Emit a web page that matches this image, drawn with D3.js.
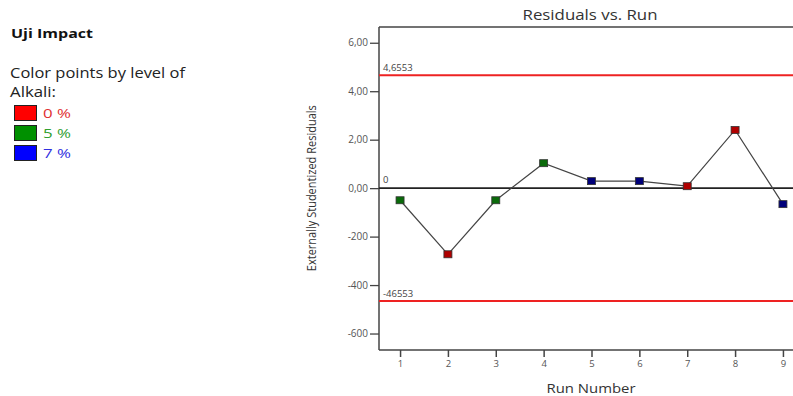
<!DOCTYPE html>
<html>
<head>
<meta charset="utf-8">
<script src="https://cdn.jsdelivr.net/npm/d3@7"></script>
<style>
body { margin: 0; background: #fff; }
svg { font-family: "Open Sans", "Noto Sans", sans-serif; }
</style>
</head>
<body>
<svg id="chart" width="793" height="396"></svg>
<script>
// data
var runs = [1, 2, 3, 4, 5, 6, 7, 8, 9];
var residuals = [-0.5, -2.73, -0.5, 1.03, 0.29, 0.29, 0.08, 2.4, -0.66];
var alkaliLevel = ["5 %", "0 %", "5 %", "5 %", "7 %", "7 %", "0 %", "0 %", "7 %"];
var levels = ["0 %", "5 %", "7 %"];
var levelColors = ["#ff0000", "#009000", "#0000ff"];
var pointColors = ["#b00000", "#0a6a0a", "#00007a"];
var textColors = ["#e03030", "#30a030", "#3030e0"];
var yTicks = [6, 4, 2, 0, -2, -4, -6];
var yTickLabels = ["6,00", "4,00", "2,00", "0,00", "-200", "-400", "-600"];
var limits = [4.6553, -4.6553];
var limitLabels = ["4,6553", "-46553"];

var svg = d3.select("#chart");
var plotLeft = 379, plotRight = 804, plotTop = 27, plotBottom = 350;

var x = d3.scaleLinear().domain([0.56, 9.44]).range([plotLeft, plotRight]);
var y = d3.scaleLinear().domain([-6.68, 6.65]).range([plotBottom, plotTop]);

// legend
svg.append("text").attr("x", 11).attr("y", 38)
    .attr("font-size", 13).attr("font-weight", "bold").attr("fill", "#111")
    .attr("textLength", 82).attr("lengthAdjust", "spacingAndGlyphs")
    .text("Uji Impact");
svg.append("text").attr("x", 10).attr("y", 78)
    .attr("font-size", 14).attr("fill", "#222")
    .attr("textLength", 175).attr("lengthAdjust", "spacingAndGlyphs")
    .text("Color points by level of");
svg.append("text").attr("x", 10).attr("y", 97)
    .attr("font-size", 14).attr("fill", "#222")
    .attr("textLength", 46).attr("lengthAdjust", "spacingAndGlyphs")
    .text("Alkali:");
levels.forEach(function(l, i) {
    svg.append("rect").attr("x", 14.5).attr("y", 105.5 + i * 20)
        .attr("width", 22).attr("height", 15)
        .attr("fill", levelColors[i]).attr("stroke", "#222").attr("stroke-width", 1);
    svg.append("text").attr("x", 43).attr("y", 118 + i * 20)
        .attr("font-size", 13).attr("fill", textColors[i])
        .attr("textLength", 28).attr("lengthAdjust", "spacingAndGlyphs")
        .text(l);
});

// title
svg.append("text").attr("x", 590).attr("y", 20).attr("text-anchor", "middle")
    .attr("font-size", 14).attr("fill", "#333")
    .attr("textLength", 135).attr("lengthAdjust", "spacingAndGlyphs")
    .text("Residuals vs. Run");

// plot frame
svg.append("line").attr("x1", plotLeft).attr("x2", 793).attr("y1", plotTop).attr("y2", plotTop)
    .attr("stroke", "#444").attr("stroke-width", 1.5);
svg.append("line").attr("x1", plotLeft).attr("x2", plotLeft).attr("y1", plotTop).attr("y2", plotBottom)
    .attr("stroke", "#444").attr("stroke-width", 1.5);
svg.append("line").attr("x1", plotLeft).attr("x2", 793).attr("y1", plotBottom).attr("y2", plotBottom)
    .attr("stroke", "#444").attr("stroke-width", 1.5);

// y axis
var yAxis = d3.axisLeft(y).tickValues(yTicks).tickSize(9).tickPadding(2)
    .tickFormat(function(d, i) { return yTickLabels[i]; });
var gy = svg.append("g").attr("transform", "translate(" + plotLeft + ",0)").call(yAxis);
gy.select(".domain").remove();
gy.selectAll("line").attr("stroke", "#444").attr("stroke-width", 1.3);
gy.selectAll("text").attr("font-size", 10).attr("fill", "#555")
    .attr("font-family", "'Open Sans', sans-serif");

// x axis
var xAxis = d3.axisBottom(x).tickValues(runs).tickSize(7).tickPadding(3)
    .tickFormat(d3.format("d"));
var gx = svg.append("g").attr("transform", "translate(0," + plotBottom + ")").call(xAxis);
gx.select(".domain").remove();
gx.selectAll("line").attr("stroke", "#444").attr("stroke-width", 1.5);
gx.selectAll("text").attr("font-size", 9.5).attr("fill", "#555")
    .attr("font-family", "'Open Sans', sans-serif");

// axis titles
svg.append("text").attr("x", 591).attr("y", 393).attr("text-anchor", "middle")
    .attr("font-size", 13.5).attr("fill", "#333")
    .attr("textLength", 89).attr("lengthAdjust", "spacingAndGlyphs")
    .text("Run Number");
svg.append("text")
    .attr("transform", "translate(316," + y(0) + ") rotate(-90)")
    .attr("text-anchor", "middle").attr("font-size", 12).attr("fill", "#333")
    .attr("textLength", 166).attr("lengthAdjust", "spacingAndGlyphs")
    .text("Externally Studentized Residuals");

// limit lines
limits.forEach(function(v, i) {
    svg.append("line").attr("x1", plotLeft).attr("x2", 793)
        .attr("y1", y(v)).attr("y2", y(v))
        .attr("stroke", "#ee2222").attr("stroke-width", 2);
    svg.append("text").attr("x", plotLeft + 4).attr("y", y(v) - 4)
        .attr("font-size", 9.5).attr("fill", "#444").text(limitLabels[i]);
});

// zero line
svg.append("line").attr("x1", plotLeft).attr("x2", 793)
    .attr("y1", y(0)).attr("y2", y(0))
    .attr("stroke", "#222").attr("stroke-width", 1.8);
svg.append("text").attr("x", plotLeft + 4).attr("y", y(0) - 5)
    .attr("font-size", 9.5).attr("fill", "#444").text("0");

// connecting line
var line = d3.line()
    .x(function(d, i) { return x(runs[i]); })
    .y(function(d) { return y(d); });
svg.append("path").datum(residuals)
    .attr("d", line).attr("fill", "none")
    .attr("stroke", "#444").attr("stroke-width", 1.2);

// points
svg.selectAll(".point")
    .data(residuals)
    .enter().append("rect")
    .attr("class", "point")
    .attr("x", function(d, i) { return x(runs[i]) - 4; })
    .attr("y", function(d) { return y(d) - 3.5; })
    .attr("width", 8)
    .attr("height", 7)
    .attr("fill", function(d, i) { return pointColors[levels.indexOf(alkaliLevel[i])]; })
    .attr("stroke", "#333")
    .attr("stroke-width", 0.8);
</script>
</body>
</html>
